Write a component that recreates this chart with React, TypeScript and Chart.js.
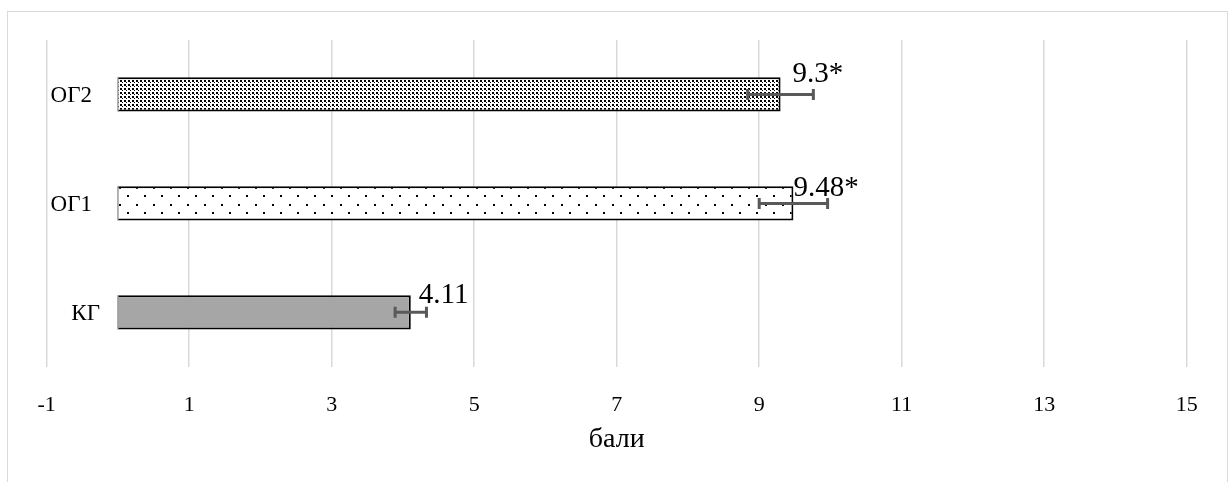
import React, { useEffect, useRef } from 'react';
import { Chart, registerables } from 'chart.js';

Chart.register(...registerables);

const categories = ['ОГ2', 'ОГ1', 'КГ'];
const values = [9.3, 9.48, 4.11];
const errors = [0.46, 0.48, 0.22];
const valueLabels = ['9.3*', '9.48*', '4.11'];
const xMin = -1;
const xMax = 15;
const xStep = 2;
const axisTitle = 'бали';

const FONT = '"Liberation Serif", "Times New Roman", serif';

// label placement (style, not data)
const labelOffsets = [
  { dx: 12, dy: 4.5 },
  { dx: 0, dy: 9.5 },
  { dx: 8, dy: 8 },
];
const catLabelRight = [92, 92, 100];

function makePattern(size: number, dots: Array<[number, number, number]>, bg: string, fg: string) {
  const c = document.createElement('canvas');
  c.width = size;
  c.height = size;
  const g = c.getContext('2d')!;
  g.fillStyle = bg;
  g.fillRect(0, 0, size, size);
  g.fillStyle = fg;
  dots.forEach(([x, y, s]) => g.fillRect(x, y, s, s));
  const main = document.createElement('canvas').getContext('2d')!;
  return main.createPattern(c, 'repeat')!;
}

const overlay = {
  id: 'overlay',
  afterDatasetsDraw(chart: any) {
    const ctx = chart.ctx;
    const meta = chart.getDatasetMeta(0);
    const xs = chart.scales.x;
    ctx.save();
    meta.data.forEach((bar: any, i: number) => {
      const { x, y, base, height } = bar.getProps(['x', 'y', 'base', 'height'], true);
      const top = y - height / 2;
      // left edge of bar
      ctx.strokeStyle = '#9a9a9a';
      ctx.lineWidth = 1.5;
      ctx.beginPath();
      ctx.moveTo(base, top);
      ctx.lineTo(base, top + height);
      ctx.stroke();
      // error bar
      const lo = xs.getPixelForValue(values[i] - errors[i]);
      const hi = xs.getPixelForValue(values[i] + errors[i]);
      ctx.strokeStyle = '#595959';
      ctx.lineWidth = 3;
      ctx.beginPath();
      ctx.moveTo(lo, y);
      ctx.lineTo(hi, y);
      ctx.moveTo(lo, y - 5.5);
      ctx.lineTo(lo, y + 5.5);
      ctx.moveTo(hi, y - 5.5);
      ctx.lineTo(hi, y + 5.5);
      ctx.stroke();
      // value label
      ctx.fillStyle = '#000';
      ctx.font = `29px ${FONT}`;
      ctx.textAlign = 'left';
      ctx.textBaseline = 'alphabetic';
      const off = labelOffsets[i];
      ctx.fillText(valueLabels[i], x + off.dx, top + off.dy);
      // category label
      ctx.font = `23px ${FONT}`;
      ctx.textAlign = 'right';
      ctx.fillText(categories[i], catLabelRight[i], y + 23 * 0.33);
    });
    ctx.restore();
  },
};

export default function App() {
  const ref = useRef<HTMLCanvasElement>(null);

  useEffect(() => {
    const canvas = ref.current!;
    const dense = makePattern(4, [[0, 0, 2], [2, 2, 1]], '#ffffff', '#000000');
    const sparse = makePattern(17, [[0, 0, 2], [8, 8, 2]], '#ffffff', '#000000');

    const chart = new Chart(canvas, {
      type: 'bar',
      data: {
        labels: categories,
        datasets: [
          {
            data: values,
            backgroundColor: [dense, sparse, '#A6A6A6'] as any,
            borderColor: '#000000',
            borderWidth: 2,
            borderSkipped: 'start',
            barPercentage: 0.315,
            categoryPercentage: 1,
          },
        ],
      },
      options: {
        indexAxis: 'y',
        responsive: false,
        animation: false,
        devicePixelRatio: 1,
        layout: { padding: { left: 46.7, right: 42.3, top: 40, bottom: 20.2 } },
        plugins: { legend: { display: false }, tooltip: { enabled: false } },
        scales: {
          x: {
            min: xMin,
            max: xMax,
            ticks: {
              stepSize: xStep,
              color: '#000',
              padding: 25,
              font: { family: FONT, size: 22 },
            },
            grid: { color: '#d9d9d9', lineWidth: 1.5, drawTicks: false },
            border: { display: false },
            title: {
              display: true,
              text: axisTitle,
              color: '#000',
              font: { family: FONT, size: 28 },
              padding: { top: -20, bottom: 5 },
            },
          },
          y: { display: false },
        },
      },
      plugins: [overlay],
    });
    return () => chart.destroy();
  }, []);

  return (
    <div style={{ position: 'fixed', left: 0, top: 0, width: 1229, height: 482, overflow: 'hidden', background: '#fff' }}>
      <div
        style={{
          position: 'absolute',
          left: 7,
          top: 11,
          width: 1221,
          height: 520,
          boxSizing: 'border-box',
          border: '1px solid #d9d9d9',
        }}
      />
      <canvas ref={ref} width={1229} height={482} style={{ position: 'absolute', left: 0, top: 0, display: 'block' }} />
    </div>
  );
}
